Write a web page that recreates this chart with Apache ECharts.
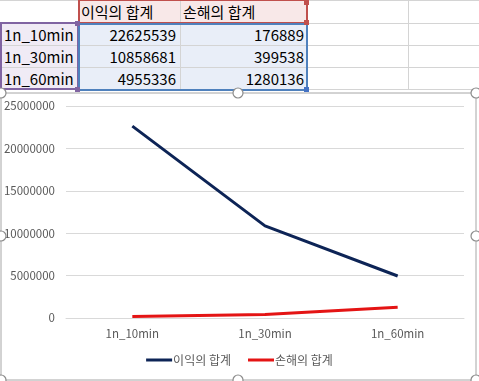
<!DOCTYPE html>
<html><head><meta charset="utf-8">
<script src="https://cdn.jsdelivr.net/npm/echarts@6/dist/echarts.min.js"></script>
<style>
html,body{margin:0;padding:0;background:#fff;width:479px;height:381px;overflow:hidden;}
#sheet{position:absolute;left:0;top:0;width:479px;height:92px;}
#chart{position:absolute;left:0;top:0;width:479px;height:381px;}
.cell{position:absolute;font-family:"Malgun Gothic","Noto Sans CJK KR",sans-serif;font-size:15px;color:#000;line-height:22px;white-space:nowrap;}
.gl{position:absolute;background:#d4d4d4;}
.bd{position:absolute;box-sizing:border-box;}
.hd{position:absolute;width:5px;height:5px;}
</style></head>
<body>
<div id="sheet"></div>
<div id="chart"></div>
<script>
var categories = ['1n_10min', '1n_30min', '1n_60min'];
var seriesNames = ['이익의 합계', '손해의 합계'];
var profit = [22625539, 10858681, 4955336];
var loss = [176889, 399538, 1280136];

// ---- spreadsheet part ----
var sheet = document.getElementById('sheet');
function add(cls, css, text){
  var d = document.createElement('div'); d.className = cls;
  for (var k in css) d.style[k] = css[k];
  if (text !== undefined) d.textContent = text;
  sheet.appendChild(d); return d;
}
var colX = [0, 78, 180, 307, 408, 479];
var rowY = [0, 23, 45, 67, 89];
// fills
add('bd', {left:'79px', top:'0px', width:'228px', height:'23px', background:'#f8e8e8'});
add('bd', {left:'0px', top:'23px', width:'78px', height:'66px', background:'#f0ebf5'});
add('bd', {left:'79px', top:'23px', width:'228px', height:'66px', background:'#e9eef8'});
// gridlines
rowY.forEach(function(y){ add('gl', {left:'0px', top:y+'px', width:'479px', height:'1px'}); });
colX.slice(1,5).forEach(function(x){ add('gl', {left:x+'px', top:'0px', width:'1px', height:'90px'}); });
// text
add('cell', {left:'81px', top:'1px'}, seriesNames[0]);
add('cell', {left:'183px', top:'1px'}, seriesNames[1]);
for (var i = 0; i < categories.length; i++) {
  var rowTop = (rowY[i+1] + 1) + 'px';
  add('cell', {left:'4px', top:rowTop}, categories[i]);
  add('cell', {left:'79px', width:'97px', textAlign:'right', top:rowTop}, String(profit[i]));
  add('cell', {left:'180px', width:'124px', textAlign:'right', top:rowTop}, String(loss[i]));
}
// selection borders
add('bd', {left:'0px', top:'22px', width:'79px', height:'68px', border:'2px solid #8064a2'});
add('bd', {left:'78px', top:'-1px', width:'230px', height:'25px', border:'2px solid #c0504d'});
add('bd', {left:'78px', top:'23px', width:'230px', height:'68px', border:'2px solid #4f81bd'});
add('hd', {left:'75px', top:'21px', background:'#8064a2'});
add('hd', {left:'75px', top:'87px', background:'#8064a2'});
add('hd', {left:'304px', top:'0px', background:'#c0504d'});
add('hd', {left:'304px', top:'20px', background:'#c0504d'});
add('hd', {left:'304px', top:'87px', background:'#4472c4'});

// ---- chart ----
var chart = echarts.init(document.getElementById('chart'), null, {renderer:'canvas'});
var axisFont = {fontFamily:'"Malgun Gothic","Noto Sans CJK KR",sans-serif', fontSize:11.5, color:'#595959'};
var handles = [[1,93],[238,93],[476,93],[1,236],[476,236],[1,380],[238,380],[476,380]];
chart.setOption({
  animation:false,
  backgroundColor:'transparent',
  grid:{left:66, right:15, top:106, bottom:63, containLabel:false},
  xAxis:{
    type:'category', data:categories, boundaryGap:true,
    axisLine:{show:true, lineStyle:{color:'#d9d9d9', width:1}},
    axisTick:{show:false},
    axisLabel:Object.assign({margin:10}, axisFont),
    splitLine:{show:false}
  },
  yAxis:{
    type:'value', min:0, max:25000000, interval:5000000,
    axisLine:{show:false}, axisTick:{show:false},
    axisLabel:Object.assign({margin:11, formatter:function(v){ return String(v); }}, axisFont),
    splitLine:{lineStyle:{color:'#d9d9d9', width:1}}
  },
  legend:{
    top:349, left:'center', itemWidth:26, itemHeight:3, itemGap:17,
    icon:'rect',
    textStyle:{fontFamily:'"Malgun Gothic","Noto Sans CJK KR",sans-serif', fontSize:12, color:'#595959', padding:[0,0,0,-4]},
    data:seriesNames
  },
  series:[
    {name:seriesNames[0], type:'line', data:profit, symbol:'none', color:'#0d2456',
     lineStyle:{width:3, color:'#0d2456'}},
    {name:seriesNames[1], type:'line', data:loss, symbol:'none', color:'#e41414',
     lineStyle:{width:3, color:'#e41414'}}
  ],
  graphic:[
    {type:'rect', shape:{x:1, y:93, width:475, height:287}, z:-1,
     style:{fill:'rgba(0,0,0,0)', stroke:'#a6a6a6', lineWidth:1}}
  ].concat(handles.map(function(p){
    return {type:'circle', shape:{cx:p[0], cy:p[1], r:5}, z:100,
            style:{fill:'#fff', stroke:'#8c8c8c', lineWidth:1.2}};
  }))
});
</script>
</body></html>
